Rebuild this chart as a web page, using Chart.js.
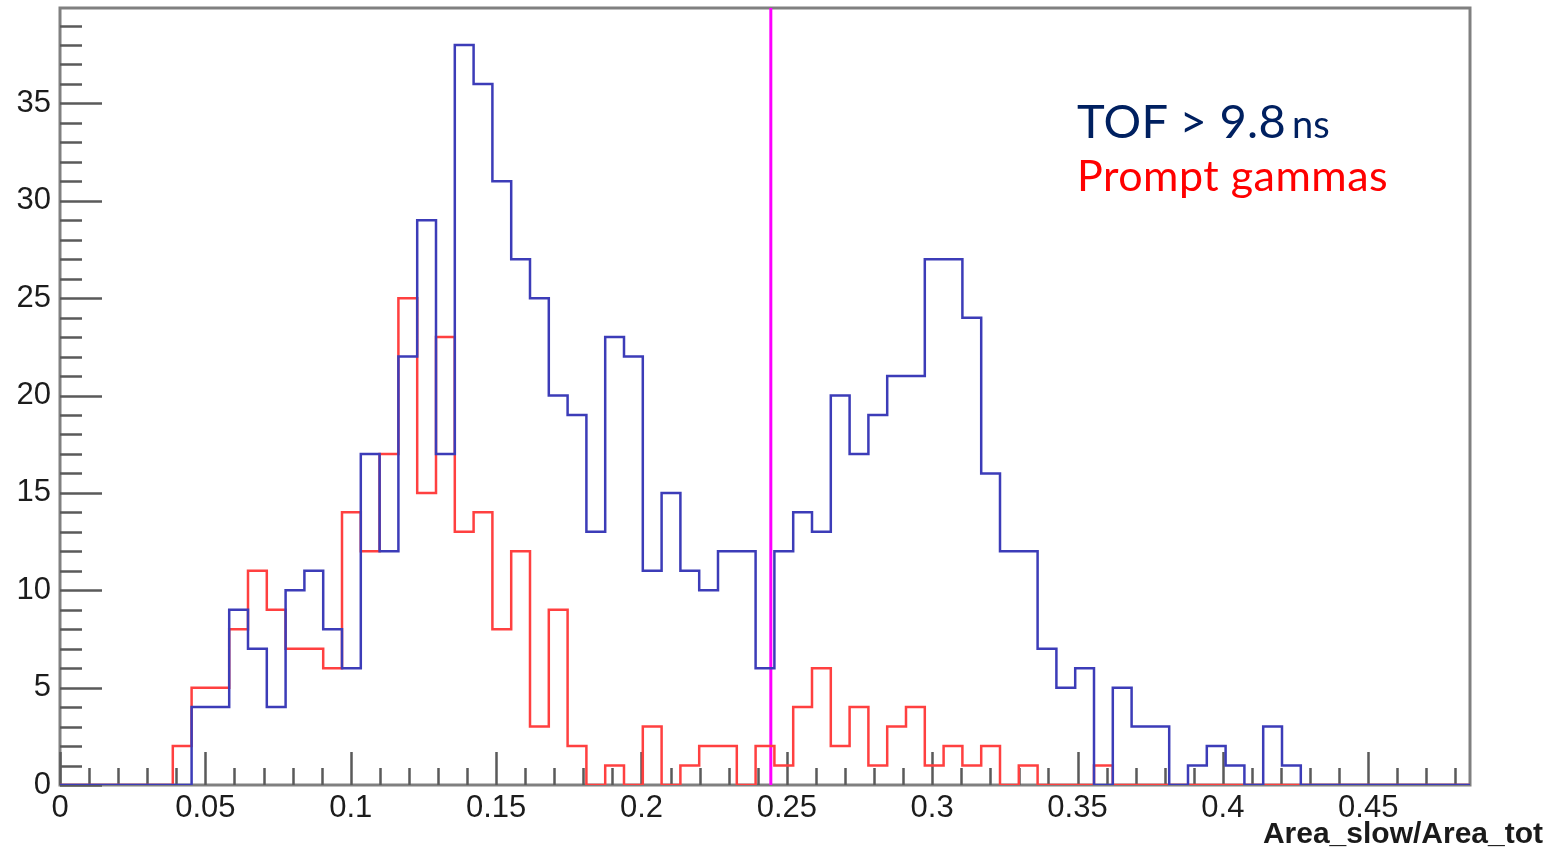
<!DOCTYPE html>
<html>
<head>
<meta charset="utf-8">
<script src="https://cdn.jsdelivr.net/npm/chart.js@4.4.1/dist/chart.umd.min.js"></script>
<style>
  body { margin: 0; background: #fff; }
  #wrap { position: relative; width: 1550px; height: 855px; }
  #chart { position: absolute; left: 0; top: 0; }
  .note { position: absolute; font-family: Lato, "Open Sans", sans-serif; white-space: nowrap; line-height: 1; }
  #tof { left: 1077px; top: 97px; color: #002060; }
  #tof .ns { font-size: 38px; margin-left: 6px; }
  #prompt { left: 1077px; top: 153px; color: #ff0000; font-size: 43px; letter-spacing: 0.5px; }
  #xtitle { position: absolute; right: 7px; top: 818px; font-family: "Liberation Sans", Arial, sans-serif;
            font-weight: bold; font-size: 30px; color: #1a1a1a; white-space: nowrap; line-height: 1; }
</style>
</head>
<body>
<div id="wrap">
  <canvas id="chart" width="1550" height="855"></canvas>
  <div class="note" id="tof"><span style="font-size:47px; letter-spacing:0.3px">TOF &gt; 9.8</span><span class="ns">ns</span></div>
  <div class="note" id="prompt">Prompt gammas</div>
  <div id="xtitle">Area_slow/Area_tot</div>
</div>
<script>
// histogram range and binning
const xMax = 0.485;
const nBins = 75;
const yMax = 39.9;
const cutValue = 0.2445;

// counts per bin
const tofCounts = [
  0, 0, 0, 0, 0, 0, 0, 4, 4, 9,
  7, 4, 10, 11, 8, 6, 17, 12, 22, 29,
  17, 38, 36, 31, 27, 25, 20, 19, 13, 23,
  22, 11, 15, 11, 10, 12, 12, 6, 12, 14,
  13, 20, 17, 19, 21, 21, 27, 27, 24, 16,
  12, 12, 7, 5, 6, 0, 5, 3, 3, 0,
  1, 2, 1, 0, 3, 1, 0, 0, 0, 0,
  0, 0, 0, 0, 0
];
const promptCounts = [
  0, 0, 0, 0, 0, 0, 2, 5, 5, 8,
  11, 9, 7, 7, 6, 14, 12, 17, 25, 15,
  23, 13, 14, 8, 12, 3, 9, 2, 0, 1,
  0, 3, 0, 1, 2, 2, 0, 2, 1, 4,
  6, 2, 4, 1, 3, 4, 1, 2, 1, 2,
  0, 1, 0, 0, 0, 1, 0, 0, 0, 0,
  0, 0, 0, 0, 0, 0, 0, 0, 0, 0,
  0, 0, 0, 0, 0
];

const xTickValues = [0, 0.05, 0.1, 0.15, 0.2, 0.25, 0.3, 0.35, 0.4, 0.45];
const xTickLabels = ['0', '0.05', '0.1', '0.15', '0.2', '0.25', '0.3', '0.35', '0.4', '0.45'];
const yTickValues = [0, 5, 10, 15, 20, 25, 30, 35];
const yTickLabels = ['0', '5', '10', '15', '20', '25', '30', '35'];

const binWidth = xMax / nBins;

// step points at the left edge of each bin, plus the closing right edge
function histPoints(counts) {
  const pts = counts.map((c, i) => ({ x: i * binWidth, y: c }));
  pts.push({ x: counts.length * binWidth, y: counts[counts.length - 1] });
  return pts;
}

const tickFont = { family: 'Liberation Sans, Arial, sans-serif', size: 31 };

// ROOT style frame with inward major/minor ticks
const rootFrame = {
  id: 'rootFrame',
  beforeDatasetsDraw(chart) {
    const { ctx, chartArea: a, scales: { x, y } } = chart;
    ctx.save();
    ctx.strokeStyle = '#808080';
    ctx.lineWidth = 3;
    ctx.strokeRect(a.left, a.top, a.right - a.left, a.bottom - a.top);

    ctx.strokeStyle = '#5a5a5a';
    ctx.lineWidth = 2.5;
    ctx.beginPath();
    for (let v = 0; v <= xMax + 1e-9; v += 0.01) {
      const px = Math.round(x.getPixelForValue(v)) + 0.5;
      const major = Math.abs(v / 0.05 - Math.round(v / 0.05)) < 1e-6;
      ctx.moveTo(px, a.bottom);
      ctx.lineTo(px, a.bottom - (major ? 33 : 17));
    }
    for (let v = 0; v <= yMax; v += 1) {
      const py = Math.round(y.getPixelForValue(v)) + 0.5;
      ctx.moveTo(a.left, py);
      ctx.lineTo(a.left + (v % 5 === 0 ? 42 : 22), py);
    }
    ctx.stroke();
    ctx.restore();
  }
};

new Chart(document.getElementById('chart').getContext('2d'), {
  type: 'line',
  data: {
    datasets: [
      {
        label: 'TOF > 9.8 ns',
        data: histPoints(tofCounts),
        borderColor: '#3c3cb8',
        borderWidth: 2.5,
        stepped: 'before',
        pointRadius: 0,
        fill: false
      },
      {
        label: 'Prompt gammas',
        data: histPoints(promptCounts),
        borderColor: '#ff4040',
        borderWidth: 2.5,
        stepped: 'before',
        pointRadius: 0,
        fill: false
      },
      {
        label: 'cut',
        data: [{ x: cutValue, y: 0 }, { x: cutValue, y: yMax }],
        borderColor: '#ff00ff',
        borderWidth: 3,
        pointRadius: 0,
        fill: false
      }
    ]
  },
  options: {
    responsive: false,
    animation: false,
    devicePixelRatio: 1,
    layout: { padding: { top: 8, right: 80, left: 0, bottom: 0 } },
    plugins: { legend: { display: false }, tooltip: { enabled: false } },
    scales: {
      x: {
        type: 'linear',
        min: 0,
        max: xMax,
        afterBuildTicks: s => { s.ticks = xTickValues.map(v => ({ value: v })); },
        afterFit: s => { s.height = 70; s.paddingLeft = 0; s.paddingRight = 0; },
        grid: { display: false, drawTicks: false },
        border: { display: false },
        ticks: {
          autoSkip: false,
          maxRotation: 0,
          padding: 5,
          color: '#1c1c1c',
          font: tickFont,
          callback: (v, i) => xTickLabels[i]
        }
      },
      y: {
        type: 'linear',
        min: 0,
        max: yMax,
        afterBuildTicks: s => { s.ticks = yTickValues.map(v => ({ value: v })); },
        afterFit: s => { s.width = 60; s.paddingTop = 0; s.paddingBottom = 0; },
        grid: { display: false, drawTicks: false },
        border: { display: false },
        ticks: {
          padding: 9,
          color: '#1c1c1c',
          font: tickFont,
          callback: (v, i) => yTickLabels[i]
        }
      }
    }
  },
  plugins: [rootFrame]
});
</script>
</body>
</html>
